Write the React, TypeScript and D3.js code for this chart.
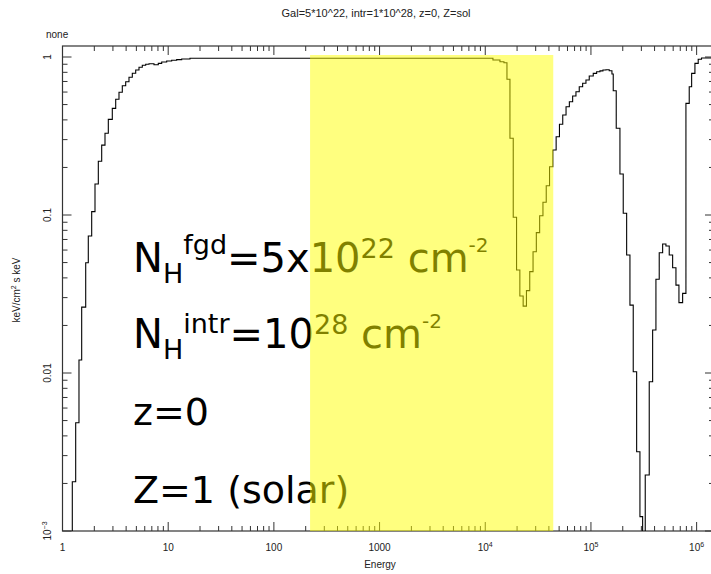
import React from 'react';
import * as d3 from 'd3';

// Step spectrum: left bin edge energy and flux value in that bin
const stepEnergy = [
  1.0, 1.238, 1.333, 1.432, 1.519, 1.658, 1.754, 1.889, 2.03, 2.182, 2.349, 2.524, 2.713, 2.959,
  3.187, 3.424, 3.68, 3.962, 4.257, 4.576, 4.927, 5.294, 5.689, 6.126, 6.582, 7.339, 8.059, 8.681,
  9.678, 10.79, 12.03, 13.42, 16.08,
  11825, 13775, 15030, 16046, 17128, 18400, 19780, 21250, 22840, 24540, 26360, 28330, 30430,
  32710, 35150, 37760, 40570, 43600, 46850, 50350, 54100, 58130, 62480, 67126, 72140, 77516,
  83470, 89700, 96360, 105150, 113200, 121700, 129900, 138700, 148950, 158000,
  162550, 173500, 188100, 202100, 217700, 233900, 251300, 270700, 290800, 308400, 326400,
  356100, 383500, 412000, 442700, 476900, 512300, 550600, 592900, 637300, 680200, 737200,
  792100, 851100, 897000, 963600, 1035000, 1112000, 1460000,
];
const stepFlux = [
  1e-5, 0.00205, 0.00484, 0.01208, 0.0261, 0.0499, 0.0736, 0.105, 0.157, 0.219, 0.277, 0.329, 0.403, 0.473,
  0.54, 0.598, 0.658, 0.698, 0.744, 0.789, 0.828, 0.861, 0.886, 0.899, 0.907, 0.894, 0.912, 0.93,
  0.943, 0.953, 0.962, 0.971, 0.981,
  0.957, 0.934, 0.92, 0.723, 0.306, 0.0967, 0.0449, 0.0307, 0.0265, 0.0332, 0.0438, 0.0586, 0.0773,
  0.099, 0.1203, 0.1533, 0.2022, 0.2578, 0.313, 0.375, 0.4296, 0.4846, 0.5213, 0.5664, 0.603, 0.6486,
  0.6817, 0.7153, 0.758, 0.788, 0.807, 0.817, 0.827, 0.83, 0.819, 0.78,
  0.612, 0.354, 0.1817, 0.1025, 0.0558, 0.0269, 0.01019, 0.003175, 0.001233, 1e-5, 0.00226,
  0.00881, 0.0187, 0.0392, 0.0577, 0.0655, 0.0637, 0.0558, 0.0464, 0.036, 0.0279, 0.0319,
  0.509, 0.6486, 0.788, 0.912, 0.967, 0.985, 0.985,
];

const xDomain = [1, 1.46e6];
const yDomain = [1e-3, 1.174];
const xTickValues = [1, 10, 100, 1000, 1e4, 1e5, 1e6];
const xTickBase = ['1', '10', '100', '1000', '10', '10', '10'];
const xTickExp = ['', '', '', '', '4', '5', '6'];
const yTickValues = [1, 0.1, 0.01, 0.001];
const yTickBase = ['1', '0.1', '0.01', '10'];
const yTickExp = ['', '', '', '\u22123'];
const bandRange = [220, 44000];

const titleText = 'Gal=5*10^22, intr=1*10^28, z=0, Z=sol';
const cornerText = 'none';
const xLabel = 'Energy';

const W = 711;
const H = 574;
const L = 62.5;
const R = 714;
const T = 46;
const B = 531;

export default function App() {
  const x = d3.scaleLog().domain(xDomain).range([L, R]);
  const y = d3.scaleLog().domain(yDomain).range([B, T]);

  const pts: [number, number][] = stepEnergy.map((e, i) => [e, stepFlux[i]]);
  const line = d3
    .line<[number, number]>()
    .x((d) => x(d[0]))
    .y((d) => y(d[1]))
    .curve(d3.curveStepAfter);
  const pathD = line(pts) || '';

  const xMinor: number[] = [];
  for (let d = 0; d <= 6; d++) {
    for (let k = 2; k <= 9; k++) {
      const v = k * Math.pow(10, d);
      if (v <= xDomain[1]) xMinor.push(v);
    }
  }
  const yMinor: number[] = [];
  for (let d = -3; d <= 0; d++) {
    for (let k = 2; k <= 9; k++) {
      const v = k * Math.pow(10, d);
      if (v <= yDomain[1]) yMinor.push(v);
    }
  }

  const axisColor = '#333';
  const tickFont = 'Liberation Sans, Arial, sans-serif';
  const bigFont = 'DejaVu Sans, sans-serif';
  const big = 40;
  const sup = 27;

  return (
    <svg
      width={W}
      height={H}
      style={{ position: 'absolute', left: 0, top: 0, background: '#fff' }}
    >
      <defs>
        <clipPath id="plotclip">
          <rect x={L} y={T} width={R - L} height={B - T} />
        </clipPath>
      </defs>
      <rect x={0} y={0} width={W} height={H} fill="#fff" />

      {/* title and corner */}
      <text x={376} y={17} textAnchor="middle" fontFamily={tickFont} fontSize={11} fill="#222">
        {titleText}
      </text>
      <text x={46} y={38} fontFamily={tickFont} fontSize={10} fill="#222">
        {cornerText}
      </text>

      {/* frame */}
      <rect x={L} y={T} width={R - L} height={B - T} fill="none" stroke={axisColor} strokeWidth={1.2} />

      {/* x ticks top & bottom */}
      {xTickValues.map((v) => (
        <g key={'xt' + v}>
          <line x1={x(v)} x2={x(v)} y1={B} y2={B - 9} stroke={axisColor} />
          <line x1={x(v)} x2={x(v)} y1={T} y2={T + 9} stroke={axisColor} />
        </g>
      ))}
      {xMinor.map((v) => (
        <g key={'xm' + v}>
          <line x1={x(v)} x2={x(v)} y1={B} y2={B - 5} stroke={axisColor} />
          <line x1={x(v)} x2={x(v)} y1={T} y2={T + 5} stroke={axisColor} />
        </g>
      ))}
      {/* y ticks left & right */}
      {yTickValues.map((v) => (
        <g key={'yt' + v}>
          <line x1={L} x2={L + 9} y1={y(v)} y2={y(v)} stroke={axisColor} />
          <line x1={R} x2={R - 9} y1={y(v)} y2={y(v)} stroke={axisColor} />
        </g>
      ))}
      {yMinor.map((v) => (
        <g key={'ym' + v}>
          <line x1={L} x2={L + 5} y1={y(v)} y2={y(v)} stroke={axisColor} />
          <line x1={R} x2={R - 5} y1={y(v)} y2={y(v)} stroke={axisColor} />
        </g>
      ))}

      {/* x tick labels */}
      {xTickValues.map((v, i) => (
        <text key={'xl' + v} x={x(v)} y={551} textAnchor="middle" fontFamily={tickFont} fontSize={10} fill="#222">
          {xTickBase[i]}
          {xTickExp[i] ? (
            <tspan fontSize={7} dy={-4}>
              {xTickExp[i]}
            </tspan>
          ) : null}
        </text>
      ))}
      <text x={380} y={568} textAnchor="middle" fontFamily={tickFont} fontSize={10} fill="#222">
        {xLabel}
      </text>

      {/* y tick labels (rotated) */}
      {yTickValues.map((v, i) => (
        <text
          key={'yl' + v}
          transform={`translate(51,${y(v)}) rotate(-90)`}
          textAnchor="middle"
          fontFamily={tickFont}
          fontSize={10}
          fill="#222"
        >
          {yTickBase[i]}
          {yTickExp[i] ? (
            <tspan fontSize={7} dy={-4}>
              {yTickExp[i]}
            </tspan>
          ) : null}
        </text>
      ))}
      <text transform="translate(20,290) rotate(-90)" textAnchor="middle" fontFamily={tickFont} fontSize={10} fill="#222">
        keV/cm
        <tspan fontSize={7} dy={-4}>2</tspan>
        <tspan dy={4}> s keV</tspan>
      </text>

      {/* spectrum */}
      <path d={pathD} fill="none" stroke="#000" strokeWidth={1.1} clipPath="url(#plotclip)" />

      {/* big annotation text */}
      <g fontFamily={bigFont} fill="#000">
        <text x={133} y={272} fontSize={big}>
          N
          <tspan fontSize={sup} y={283}>H</tspan>
          <tspan fontSize={sup} y={254}>fgd</tspan>
          <tspan fontSize={big} y={272}>=5x10</tspan>
          <tspan fontSize={sup} y={258}>22</tspan>
          <tspan fontSize={big} y={272}> cm</tspan>
          <tspan fontSize={20} y={252}>-2</tspan>
        </text>
        <text x={133} y={348} fontSize={big}>
          N
          <tspan fontSize={sup} y={359}>H</tspan>
          <tspan fontSize={sup} y={333}>intr</tspan>
          <tspan fontSize={big} y={348}>=10</tspan>
          <tspan fontSize={sup} y={334}>28</tspan>
          <tspan fontSize={big} y={348}> cm</tspan>
          <tspan fontSize={20} y={328}>-2</tspan>
        </text>
        <text x={133} y={425} fontSize={38}>
          z=0
        </text>
        <text x={133} y={503} fontSize={38}>
          Z=1 (solar)
        </text>
      </g>

      {/* highlight band */}
      <rect
        x={x(bandRange[0])}
        y={55}
        width={x(bandRange[1]) - x(bandRange[0])}
        height={B - 55}
        fill="#ffff00"
        opacity={0.5}
      />
    </svg>
  );
}
